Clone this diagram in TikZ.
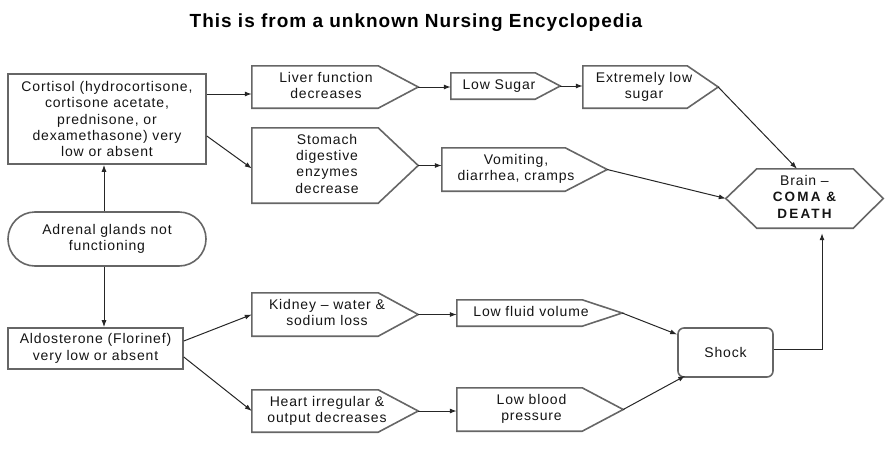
\documentclass[tikz,border=0pt]{standalone}
\usepackage{fontspec}
\setmainfont{Liberation Sans}[LetterSpace=6]
\usetikzlibrary{arrows.meta}

% Box whose right end is a point: name, centre, width, height, point length,
% extra space on the right of the text, text (lines split by \\)
\newcommand\arrowbox[7]{%
  \node[txt, minimum width=#3, minimum height=#4] (#1) at (#2)
    {\begin{tabular}{@{}c@{}}#7\end{tabular}\hspace*{#6}};
  \draw[boxline] (#1.north west) -- ([xshift=-#5]#1.north east) -- (#1.east)
    -- ([xshift=-#5]#1.south east) -- (#1.south west) -- cycle;
}

\begin{document}
\begin{tikzpicture}[x=1pt,y=-1pt,
  txt/.style={font=\fontsize{14}{16.3}\selectfont, text=black!92, align=center, inner sep=0pt},
  boxline/.style={draw=black!60, line width=1.6pt, line join=miter},
  plainbox/.style={txt, boxline, rectangle},
  arr/.style={-{Latex[length=7pt,width=5pt]}, line width=1pt, draw=black!85},
]
\useasboundingbox (0,0) rectangle (890,452);

\node[font=\fontsize{19}{22}\selectfont\bfseries\addfontfeatures{LetterSpace=5.2}, anchor=base, inner sep=0pt] (title)
  at (416,28) {This is from a unknown Nursing Encyclopedia};

% left column
\node[plainbox, minimum width=198, minimum height=90] (cortisol) at (107,119)
  {Cortisol (hydrocortisone,\\cortisone acetate,\\prednisone, or\\dexamethasone) very\\low or absent};
\node[plainbox, rounded corners=27pt, minimum width=198, minimum height=54] (adrenal) at (107,239)
  {Adrenal glands not\\functioning};
\node[plainbox, minimum width=175, minimum height=41] (aldo) at (95.5,348.5)
  {Aldosterone (Florinef)\\very low or absent};

% cortisol branch
\arrowbox{liver}{335,87}{166}{42}{40}{18pt}{Liver function\\decreases}
\arrowbox{stomach}{335,165.5}{166}{75}{40}{16pt}{Stomach\\digestive\\enzymes\\decrease}
\arrowbox{lowsugar}{505.5,86}{109}{26}{25}{13pt}{Low Sugar}
\arrowbox{extreme}{650.5,87}{135}{42}{31}{13pt}{Extremely low\\sugar}
\arrowbox{vomit}{524.5,169.5}{165}{43}{42}{17pt}{Vomiting,\\diarrhea, cramps}

% aldosterone branch
\arrowbox{kidney}{335,314.5}{166}{43}{40}{16pt}{Kidney -- water \&\\sodium loss}
\arrowbox{heart}{335,411}{166}{42}{40}{16pt}{Heart irregular \&\\output decreases}
\arrowbox{lowfluid}{539.5,313}{165}{26}{40}{17pt}{Low fluid volume}
\arrowbox{lowbp}{540,409.5}{166}{43}{41}{17pt}{Low blood\\pressure}

\node[plainbox, rounded corners=6pt, minimum width=95, minimum height=49] (shock) at (725.5,352.5) {Shock};

% outcome
\node[txt, minimum width=157, minimum height=59] (brain) at (804.5,198.5)
  {\begin{tabular}{@{}c@{}}Brain --\\
   {\fontsize{13.5}{16.3}\selectfont\bfseries\addfontfeatures{LetterSpace=16}COMA \&}\\
   {\fontsize{13.5}{16.3}\selectfont\bfseries\addfontfeatures{LetterSpace=16}DEATH}\end{tabular}};
\draw[boxline] (brain.west) -- ([xshift=31]brain.north west) -- ([xshift=-30]brain.north east)
  -- (brain.east) -- ([xshift=-30]brain.south east) -- ([xshift=31]brain.south west) -- cycle;

% connectors
\draw[arr] ([xshift=-3pt]adrenal.north) -- ([xshift=-3pt]adrenal.north |- cortisol.south);
\draw[arr] ([xshift=-3pt]adrenal.south) -- ([xshift=-3pt]adrenal.south |- aldo.north);
\draw[arr] ([yshift=25pt]cortisol.east) -- ([yshift=-7pt]liver.west);
\draw[arr] ([yshift=-17pt]cortisol.east) -- ([yshift=-3pt]stomach.west);
\draw[arr] (liver.east) -- (lowsugar.west |- liver.east);
\draw[arr] (lowsugar.east) -- (extreme.west |- lowsugar.east);
\draw[arr] (stomach.east) -- (vomit.west |- stomach.east);
\draw[arr] (extreme.east) -- ([xshift=-7.5pt]brain.north);
\draw[arr] (vomit.east) -- (brain.west);
\draw[arr] ([yshift=7.5pt]aldo.east) -- (kidney.west);
\draw[arr] ([yshift=-8.5pt]aldo.east) -- (heart.west);
\draw[arr] (kidney.east) -- (lowfluid.west |- kidney.east);
\draw[arr] (heart.east) -- (lowbp.west |- heart.east);
\draw[arr] (lowfluid.east) -- ([yshift=18pt]shock.west);
\draw[arr] (lowbp.east) -- ([xshift=8pt,yshift=2pt]shock.south west);
\draw[arr, shorten >=5pt] ([yshift=3.5pt]shock.east) -| ([xshift=17.5pt]brain.south);
\end{tikzpicture}
\end{document}
